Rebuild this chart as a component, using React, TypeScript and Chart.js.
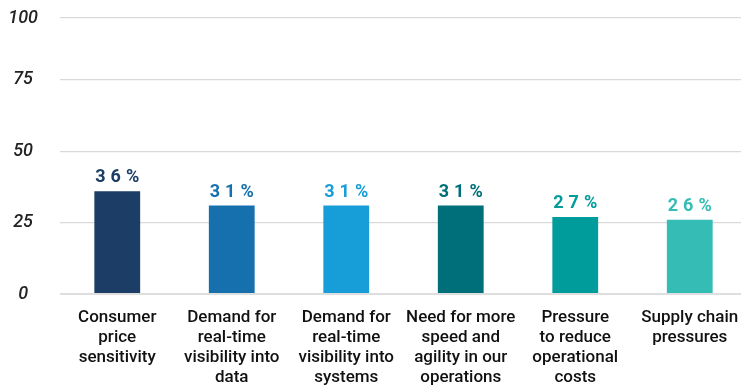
import React, { useEffect, useRef } from "react";
import { Chart, registerables } from "chart.js";

Chart.register(...registerables);

const categories: string[][] = [
  ["Consumer", "price", "sensitivity"],
  ["Demand for", "real-time", "visibility into", "data"],
  ["Demand for", "real-time", "visibility into", "systems"],
  ["Need for more", "speed and", "agility in our", "operations"],
  ["Pressure", "to reduce", "operational", "costs"],
  ["Supply chain", "pressures"],
];
const values: number[] = [36, 31, 31, 31, 27, 26];
const barColors: string[] = ["#1b3d66", "#1770ae", "#179dd8", "#006f79", "#009b9b", "#35bdb5"];
const yTickValues: number[] = [0, 25, 50, 75, 96.7];
const yTickLabels: string[] = ["0", "25", "50", "75", "100"];

const valueLabelPlugin = {
  id: "valueLabels",
  afterDatasetsDraw(chart: any) {
    const { ctx } = chart;
    const meta = chart.getDatasetMeta(0);
    ctx.save();
    ctx.font = "bold 18px Roboto";
    ctx.textBaseline = "alphabetic";
    ctx.textAlign = "left";
    const spacing = 5;
    meta.data.forEach((bar: any, i: number) => {
      const text = `${values[i]}%`;
      const chars = text.split("");
      const widths = chars.map((c) => ctx.measureText(c).width);
      const total = widths.reduce((a, b) => a + b, 0) + spacing * (chars.length - 1);
      let x = bar.x - total / 2;
      ctx.fillStyle = barColors[i];
      chars.forEach((c, j) => {
        ctx.fillText(c, x, bar.y - 9);
        x += widths[j] + spacing;
      });
    });
    ctx.restore();
  },
};

export default function App() {
  const ref = useRef<HTMLCanvasElement>(null);
  useEffect(() => {
    if (!ref.current) return;
    const chart = new Chart(ref.current, {
      type: "bar",
      data: {
        labels: categories,
        datasets: [
          {
            data: values,
            backgroundColor: barColors,
            barPercentage: 0.4,
            categoryPercentage: 1,
          },
        ],
      },
      options: {
        animation: false,
        responsive: false,
        maintainAspectRatio: false,
        layout: { padding: { top: 18, left: 0, right: 0, bottom: 0 } },
        plugins: { legend: { display: false }, tooltip: { enabled: false } },
        scales: {
          x: {
            grid: { display: false, drawTicks: false },
            border: { display: false },
            ticks: {
              color: "#111111",
              padding: 14,
              maxRotation: 0,
              autoSkip: false,
              font: { family: "Roboto", size: 17, weight: "500", lineHeight: 1.18 },
            },
            afterFit(scale: any) {
              scale.height = 96;
              scale.paddingLeft = 0;
              scale.paddingRight = 0;
              scale.paddingTop = 0;
              scale.paddingBottom = 0;
            },
          },
          y: {
            min: 0,
            max: 96.7,
            afterBuildTicks(scale: any) {
              scale.ticks = yTickValues.map((v) => ({ value: v }));
            },
            afterFit(scale: any) {
              scale.width = 60;
              scale.paddingTop = 0;
              scale.paddingBottom = 0;
              scale.paddingLeft = 0;
              scale.paddingRight = 0;
            },
            grid: {
              drawTicks: false,
              color: (c: any) => (c.tick && c.tick.value === 0 ? "#dedede" : "#d9d9d9"),
              lineWidth: (c: any) => (c.tick && c.tick.value === 0 ? 2 : 1.2),
            },
            border: { display: false },
            ticks: {
              padding: 22,
              crossAlign: "center",
              color: "#222222",
              font: { family: "Roboto", size: 18, style: "italic", weight: "500" },
              callback: (_v: any, i: number) => yTickLabels[i],
            },
          },
        },
      },
      plugins: [valueLabelPlugin],
    });
    return () => chart.destroy();
  }, []);
  return (
    <div
      style={{
        position: "fixed",
        left: 0,
        top: 0,
        width: 741,
        height: 390,
        overflow: "hidden",
        background: "#ffffff",
      }}
    >
      <canvas ref={ref} width={747} height={390} style={{ display: "block" }} />
    </div>
  );
}
